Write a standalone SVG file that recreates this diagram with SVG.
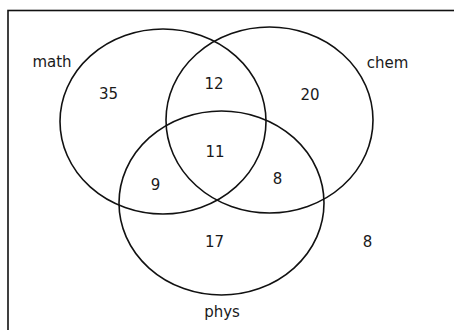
<svg xmlns="http://www.w3.org/2000/svg" width="454" height="330" viewBox="0 0 454 330">
<style>
.c{fill:none;stroke:#111;stroke-width:1.6}
.t{font-family:"DejaVu Sans",Verdana,sans-serif;font-size:15px;fill:#1a1a1a;text-anchor:middle}
</style>
<rect x="0" y="0" width="454" height="330" fill="#fff"/>
<rect x="8" y="10.5" width="460" height="340" fill="none" stroke="#111" stroke-width="1.6"/>
<g id="math"><ellipse class="c" cx="163" cy="121.5" rx="103" ry="92.5"/><text class="t" x="52" y="67">math</text></g>
<g id="chem"><ellipse class="c" cx="269.5" cy="120" rx="103.5" ry="93"/><text class="t" x="387.5" y="68">chem</text></g>
<g id="phys"><ellipse class="c" cx="221.5" cy="203" rx="102.5" ry="92"/><text class="t" x="222" y="317">phys</text></g>
<g id="counts">
<text class="t" x="108.5" y="99">35</text>
<text class="t" x="214" y="89">12</text>
<text class="t" x="310" y="100">20</text>
<text class="t" x="215" y="157">11</text>
<text class="t" x="155.5" y="190">9</text>
<text class="t" x="277.5" y="184">8</text>
<text class="t" x="214.5" y="247">17</text>
<text class="t" x="367.5" y="247">8</text>
</g>
<g id="connectors"></g>
</svg>
